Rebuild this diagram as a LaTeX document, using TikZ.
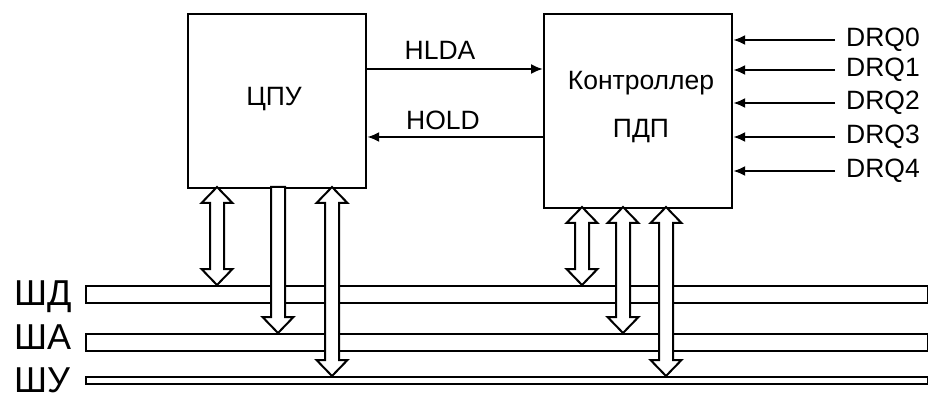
\documentclass[tikz,border=0pt]{standalone}
\usepackage{fontspec}
\setmainfont{Liberation Sans}
\usetikzlibrary{arrows.meta}
\tikzset{
 box/.style={draw, line width=2.2pt, fill=white, inner sep=0pt, anchor=north west},
 bus/.style={draw, line width=2.1pt, fill=white, inner sep=0pt, anchor=north west},
 blk/.style={draw, line width=2pt, fill=white, line join=miter},
 sig/.style={line width=2pt, -{Latex[length=12pt,width=10pt]}},
 lab/.style={font=\fontsize{26.5}{30}\selectfont, inner sep=0pt},
 buslab/.style={font=\fontsize{36}{40}\selectfont, inner sep=0pt, anchor=base west},
}
\newcommand\dblarr[3]{\filldraw[blk] (#1-7,#2+16) -- (#1-15.5,#2+16) -- (#1,#2) -- (#1+15.5,#2+16) -- (#1+7,#2+16) -- (#1+7,#3-16) -- (#1+15.5,#3-16) -- (#1,#3) -- (#1-15.5,#3-16) -- (#1-7,#3-16) -- cycle;}
\newcommand\sglarr[3]{\filldraw[blk] (#1-7,#2) -- (#1+7,#2) -- (#1+7,#3-16) -- (#1+15.5,#3-16) -- (#1,#3) -- (#1-15.5,#3-16) -- (#1-7,#3-16) -- cycle;}
\begin{document}
\begin{tikzpicture}[x=1pt,y=-1pt]
\useasboundingbox (0,0) rectangle (928,395);
% buses
\node[bus, minimum width=842pt, minimum height=17pt] (sd) at (85,285) {};
\node[bus, minimum width=842pt, minimum height=17pt] (sa) at (85,333) {};
\node[bus, minimum width=842pt, minimum height=7pt] (su) at (85,376) {};
\node[buslab] (sdl) at (14,305) {ШД};
\node[buslab] (sal) at (14,349) {ША};
\node[buslab] (sul) at (14,392) {ШУ};
% blocks
\node[box, minimum width=178pt, minimum height=174pt] (cpu) at (187,13) {};
\node[box, minimum width=188pt, minimum height=194pt] (dma) at (543,13) {};
\node[lab, anchor=base] (cput) at (274,106) {ЦПУ};
\node[lab, anchor=base] (dmat1) at (641,90) {Контроллер};
\node[lab, anchor=base] (dmat2) at (641,138) {ПДП};
% HLDA / HOLD
\coordinate (hl) at (0,69);
\coordinate (ho) at (0,137);
\draw[sig] (cpu.east |- hl) -- (dma.west |- hl);
\draw[sig] (dma.west |- ho) -- (cpu.east |- ho);
\node[lab, anchor=base] (hlda) at (440,60) {HLDA};
\node[lab, anchor=base] (hold) at (443,130) {HOLD};
% DRQ
\foreach \i/\y in {0/40,1/70,2/103,3/137,4/171}{
  \node[lab, anchor=west] (drq\i) at (846,\y) {DRQ\i};
  \draw[sig] ([xshift=-11pt]drq\i.west) -- (dma.east |- drq\i.west);
}
% bus arrows
\dblarr{217}{187}{285}
\sglarr{278}{187}{333}
\dblarr{332}{187}{376}
\dblarr{582}{207}{285}
\dblarr{623}{207}{333}
\dblarr{666}{207}{376}
\end{tikzpicture}
\end{document}
